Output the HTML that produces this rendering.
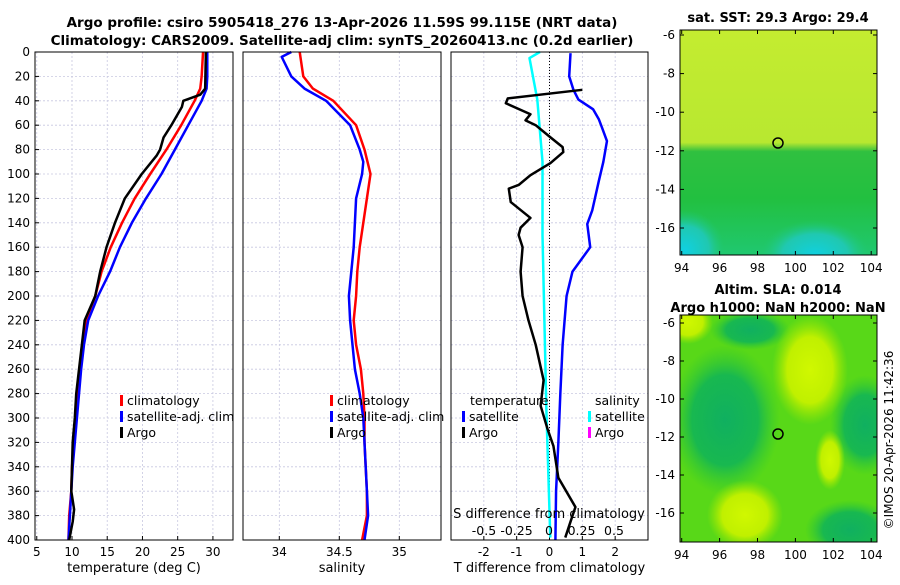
<!DOCTYPE html>
<html><head><meta charset="utf-8"><style>
body{margin:0;background:#fff;font-family:"Liberation Sans","DejaVu Sans",sans-serif}
svg text{font-family:"DejaVu Sans","Liberation Sans",sans-serif}
</style></head><body>
<svg id="c" width="900" height="580" xmlns="http://www.w3.org/2000/svg">
<defs>
<linearGradient id="sstg" x1="0" y1="0" x2="0" y2="1">
<stop offset="0" stop-color="#c4ec30"/><stop offset="0.5" stop-color="#b8e830"/><stop offset="0.54" stop-color="#30c040"/><stop offset="0.75" stop-color="#22c040"/><stop offset="1" stop-color="#20c870"/></linearGradient>
<radialGradient id="cy"><stop offset="0" stop-color="#10d0e0"/><stop offset="0.6" stop-color="#20c8b0"/><stop offset="1" stop-color="#20c870" stop-opacity="0"/></radialGradient>
<radialGradient id="yb"><stop offset="0" stop-color="#d0f800"/><stop offset="0.6" stop-color="#c0f000"/><stop offset="1" stop-color="#a0e800" stop-opacity="0"/></radialGradient>
<radialGradient id="db"><stop offset="0" stop-color="#10b060"/><stop offset="0.6" stop-color="#18b850"/><stop offset="1" stop-color="#30c830" stop-opacity="0"/></radialGradient>
<clipPath id="c1"><rect x="680" y="30" width="197" height="225"/></clipPath>
<clipPath id="c2"><rect x="680" y="315" width="197" height="227"/></clipPath>
</defs>
<text x="342" y="27" text-anchor="middle" font-size="13.5" font-weight="bold">Argo profile: csiro 5905418_276 13-Apr-2026 11.59S 99.115E (NRT data)</text>
<text x="342" y="45" text-anchor="middle" font-size="13.5" font-weight="bold">Climatology: CARS2009. Satellite-adj clim: synTS_20260413.nc (0.2d earlier)</text>
<g id="p1"></g><g id="p2"></g><g id="p3"></g>
<g>
<text x="778" y="22" text-anchor="middle" font-size="13" font-weight="bold">sat. SST: 29.3 Argo: 29.4</text>
<g clip-path="url(#c1)">
<rect x="680" y="30" width="197" height="225" fill="url(#sstg)"/>
<ellipse cx="685" cy="250" rx="40" ry="40" fill="url(#cy)"/>
<ellipse cx="815" cy="255" rx="55" ry="35" fill="url(#cy)"/>
</g>
<rect x="680" y="30" width="197" height="225" fill="none" stroke="#000"/>
<circle cx="778" cy="143" r="5" fill="none" stroke="#000" stroke-width="1.5"/>
<g id="m1t"></g>
</g>
<g>
<text x="778" y="294" text-anchor="middle" font-size="13" font-weight="bold">Altim. SLA: 0.014</text>
<text x="778" y="312" text-anchor="middle" font-size="13" font-weight="bold">Argo h1000: NaN h2000: NaN</text>
<g clip-path="url(#c2)">
<rect x="680" y="315" width="197" height="227" fill="#58d818"/>
<ellipse cx="725" cy="420" rx="55" ry="75" fill="url(#db)"/>
<ellipse cx="865" cy="425" rx="35" ry="50" fill="url(#db)"/>
<ellipse cx="750" cy="330" rx="40" ry="20" fill="url(#db)"/>
<ellipse cx="850" cy="530" rx="45" ry="30" fill="url(#db)"/>
<ellipse cx="810" cy="370" rx="38" ry="55" fill="url(#yb)"/>
<ellipse cx="745" cy="515" rx="38" ry="35" fill="url(#yb)"/>
<ellipse cx="688" cy="322" rx="25" ry="22" fill="url(#yb)"/>
<ellipse cx="830" cy="460" rx="15" ry="30" fill="url(#yb)"/>
</g>
<rect x="680" y="315" width="197" height="227" fill="none" stroke="#000"/>
<circle cx="778" cy="434" r="5" fill="none" stroke="#000" stroke-width="1.5"/>
<g id="m2t"></g>
</g>
<text transform="translate(893,440) rotate(-90)" text-anchor="middle" font-size="12">©IMOS 20-Apr-2026 11:42:36</text>
</svg>
<script>
const depths=[0,20,30,40,60,80,100,120,140,160,180,200,220,240,260,280,300,320,340,360,380,400];
const tClim=[28.6,28.4,28.2,27.4,25.5,23.4,21.1,18.9,17.1,15.5,14.2,13.3,12.0,11.6,11.1,10.85,10.6,10.3,10.0,9.9,9.6,9.5];
const tSat=[29.2,29.2,29.1,28.4,26.5,24.6,22.7,20.5,18.5,16.8,15.4,13.7,12.3,11.7,11.3,11.0,10.7,10.4,10.1,9.9,9.7,9.5];
const argoDepth=[0,30,35,40,45,50,60,70,80,85,100,120,140,160,180,200,220,240,260,280,300,320,340,360,375,385,400];
const tArgo=[29.0,28.9,28.2,25.8,25.6,25.1,24.1,23.0,22.5,22.0,19.9,17.5,16.1,14.9,14.0,13.3,11.8,11.4,11.0,10.6,10.4,10.1,10.0,9.9,10.3,10.1,9.6];
const sDepth=[0,20,30,40,60,80,100,120,140,160,180,200,220,240,260,280,300,320,340,360,380,400];
const sClim=[34.17,34.2,34.28,34.45,34.64,34.71,34.76,34.73,34.70,34.67,34.65,34.64,34.62,34.64,34.68,34.70,34.71,34.71,34.72,34.73,34.73,34.69];
const sSatDepth=[0,4,20,30,40,60,80,90,100,120,160,200,220,240,260,280,300,320,340,360,380,400];
const sSat=[34.1,34.02,34.1,34.21,34.39,34.59,34.67,34.70,34.69,34.64,34.62,34.58,34.59,34.61,34.63,34.67,34.70,34.71,34.72,34.73,34.74,34.71];
const dDepth=[1,20,31,39,47,55,62,73,90,106,130,141,160,180,200,240,280,320,360,400];
const dTSat=[0.64,0.6,0.73,0.88,1.33,1.5,1.6,1.75,1.64,1.5,1.3,1.15,1.24,0.7,0.52,0.4,0.33,0.27,0.2,0.18];
const dArgoDepth=[31,38,42,51,56,60,70,78,82,91,101,109,112,123,136,144,150,160,180,200,220,240,269,290,309,323,349,373,385,398];
const dTArgo=[1.0,-1.27,-1.33,-0.58,-0.73,-0.42,0.03,0.4,0.42,0.03,-0.58,-0.94,-1.24,-1.18,-0.58,-0.88,-0.94,-0.82,-0.88,-0.82,-0.64,-0.42,-0.18,-0.27,-0.06,0.12,0.27,0.79,0.64,0.48];
const sDiffDepth=[0,5,39,90,150,294,398];
const dSSat=[-0.07,-0.15,-0.09,-0.05,-0.05,-0.02,0.01];
const NS="http://www.w3.org/2000/svg";
function el(p,t,a){const e=document.createElementNS(NS,t);for(const k in a)e.setAttribute(k,a[k]);p.appendChild(e);return e;}
const Y0=52,Y1=540;const yS=d=>Y0+d/400*(Y1-Y0);
function panel(g,x0,x1,xmin,xmax,ticks,tlabels,xlabel,name){
  
  
  const xS=v=>x0+(v-xmin)/(xmax-xmin)*(x1-x0);
  for(let d=20;d<400;d+=20)el(g,'line',{x1:x0,x2:x1,y1:yS(d),y2:yS(d),stroke:'#c8c8e0','stroke-dasharray':'2,2','stroke-width':0.8});
  ticks.forEach((v,i)=>{el(g,'line',{x1:xS(v),x2:xS(v),y1:Y0,y2:Y1,stroke:'#c8c8e0','stroke-dasharray':'2,2','stroke-width':0.8});
    el(g,'line',{x1:xS(v),x2:xS(v),y1:Y1,y2:Y1-4,stroke:'#000'});
    const t=el(g,'text',{x:xS(v),y:Y1+16,'text-anchor':'middle','font-size':12});t.textContent=tlabels[i];
    
    });
  const l=el(g,'text',{x:(x0+x1)/2,y:572,'text-anchor':'middle','font-size':13});l.textContent=xlabel;
  
  
  return xS;
}
function line(g,xs,ds,xS,col,w,name){
  const p=el(g,'polyline',{points:xs.map((v,i)=>xS(v)+','+yS(ds[i])).join(' '),fill:'none',stroke:col,'stroke-width':w,'stroke-linejoin':'round'});
  
  
}
function frame(g,x0,x1){el(g,'rect',{x:x0,y:Y0,width:x1-x0,height:Y1-Y0,fill:'none',stroke:'#000'});}
function leg(g,x,y,col,txt){el(g,'rect',{x:x,y:y-9,width:3,height:11,fill:col});const t=el(g,'text',{x:x+7,y:y+1,'font-size':12.5});t.textContent=txt;
  
  }
const p1=document.getElementById('p1'),p2=document.getElementById('p2'),p3=document.getElementById('p3');
// panel 1
let xS=panel(p1,35,233,4.75,32.85,[5,10,15,20,25,30],['5','10','15','20','25','30'],'temperature (deg C)','temperature-panel');
for(let d=0;d<=400;d+=20){el(p1,'line',{x1:35,x2:39,y1:yS(d),y2:yS(d),stroke:'#000'});const t=el(p1,'text',{x:30,y:yS(d)+4,'text-anchor':'end','font-size':12});t.textContent=d;
  
  }
line(p1,tClim,depths,xS,'#f00',2.5,'temp-climatology-line');
line(p1,tSat,depths,xS,'#00f',2.5,'temp-satellite-line');
line(p1,tArgo,argoDepth,xS,'#000',2.5,'temp-argo-line');
leg(p1,120,404,'#f00','climatology');leg(p1,120,420,'#00f','satellite-adj. clim');leg(p1,120,436,'#000','Argo');
frame(p1,35,233);
// panel 2
xS=panel(p2,243,441,33.6975,35.3475,[34,34.5,35],['34','34.5','35'],'salinity','salinity-panel');
line(p2,sClim,sDepth,xS,'#f00',2.5,'sal-climatology-line');
line(p2,sSat,sSatDepth,xS,'#00f',2.5,'sal-satellite-line');
leg(p2,330,404,'#f00','climatology');leg(p2,330,420,'#00f','satellite-adj. clim');leg(p2,330,436,'#000','Argo');
frame(p2,243,441);
// panel 3
xS=panel(p3,451,648,-3,3,[-2,-1,0,1,2],['-2','-1','0','1','2'],'T difference from climatology','difference-panel');
el(p3,'line',{x1:xS(0),x2:xS(0),y1:Y0,y2:Y1,stroke:'#000','stroke-dasharray':'1,2'});
const sS=v=>549+v*130;
line(p3,dSSat,sDiffDepth,sS,'#0ff',2.5,'sal-diff-satellite-line');
line(p3,dTSat,dDepth,xS,'#00f',2.5,'temp-diff-satellite-line');
line(p3,dTArgo,dArgoDepth,xS,'#000',2.5,'temp-diff-argo-line');
const st=el(p3,'text',{x:470,y:405,'font-size':12.5});st.textContent='temperature';
const ss=el(p3,'text',{x:595,y:405,'font-size':12.5});ss.textContent='salinity';
leg(p3,462,420,'#00f','satellite');leg(p3,462,436,'#000','Argo');
leg(p3,588,420,'#0ff','satellite');leg(p3,588,436,'#f0f','Argo');
const sl=el(p3,'text',{x:549,y:518,'text-anchor':'middle','font-size':13});sl.textContent='S difference from climatology';
[-0.5,-0.25,0,0.25,0.5].forEach(v=>{const t=el(p3,'text',{x:sS(v),y:535,'text-anchor':'middle','font-size':12.5});t.textContent=String(v);
  
  });
frame(p3,451,648);
// map ticks
function mapTicks(g,y0,h,latTop,sp){
  [94,96,98,100,102,104].forEach((lon,i)=>{const x=681.7+i*37.9;el(g,'line',{x1:x,x2:x,y1:y0+h,y2:y0+h-4,stroke:'#000'});el(g,'line',{x1:x,x2:x,y1:y0,y2:y0+4,stroke:'#000'});const t=el(g,'text',{x:x,y:y0+h+17,'text-anchor':'middle','font-size':12});t.textContent=lon;});
  [-6,-8,-10,-12,-14,-16].forEach((la,i)=>{const y=latTop+i*sp;el(g,'line',{x1:680,x2:684,y1:y,y2:y,stroke:'#000'});el(g,'line',{x1:873,x2:877,y1:y,y2:y,stroke:'#000'});const t=el(g,'text',{x:675,y:y+4,'text-anchor':'end','font-size':12});t.textContent=la;});
}
mapTicks(document.getElementById('m1t'),30,225,35,38.6);
mapTicks(document.getElementById('m2t'),315,227,323,38);
</script>
</body></html>
